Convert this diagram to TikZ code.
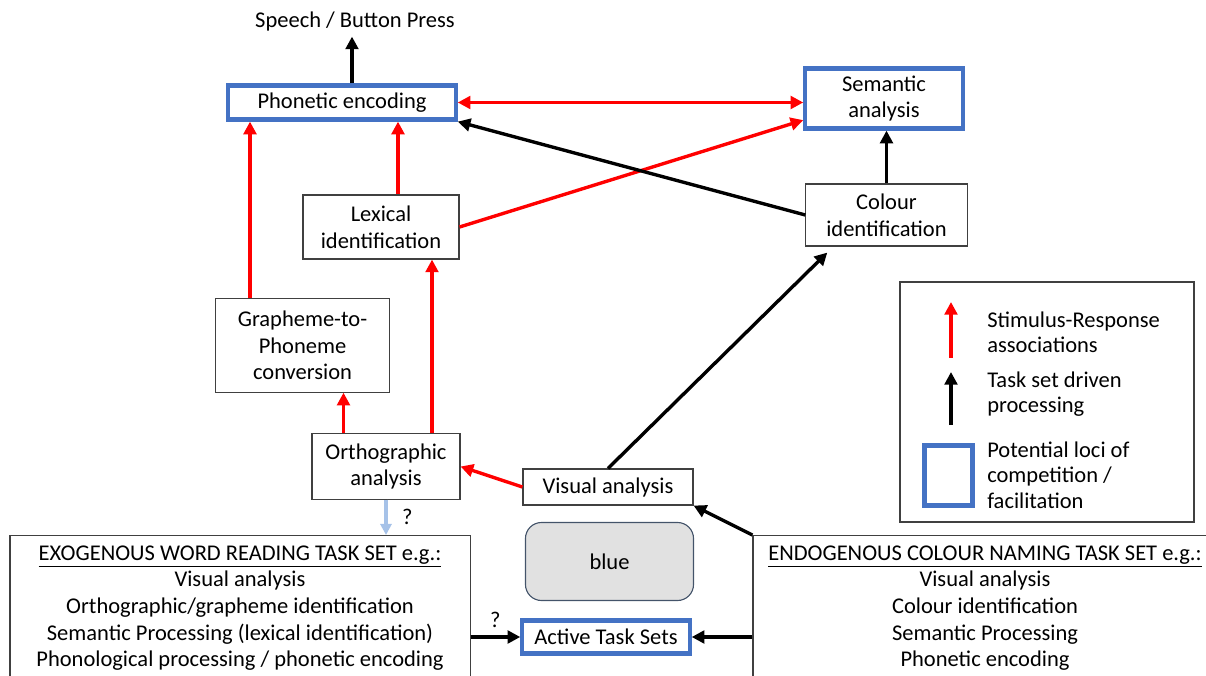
\documentclass[tikz,border=0pt]{standalone}
\usepackage{fontspec}
\setmainfont{Carlito}
\usetikzlibrary{arrows.meta,positioning}

\definecolor{locusblue}{RGB}{68,114,196}
\definecolor{srred}{RGB}{255,0,0}
\definecolor{cuegrey}{RGB}{225,225,225}
\definecolor{cueedge}{RGB}{68,84,106}
\definecolor{paleblue}{RGB}{166,194,232}

\tikzset{
  headtip/.tip={Triangle[length=9pt,width=9pt]},
  every node/.style={font=\fontsize{16}{19}\selectfont},
  stage/.style={draw=black!75, line width=0.8pt, align=center, inner sep=0pt},
  locus/.style={draw=locusblue, line width=3pt, align=center, inner sep=0pt},
  cue/.style={draw=cueedge, fill=cuegrey, line width=0.8pt, rounded corners=0.4cm},
  taskset/.style={draw=black!75, line width=0.8pt, align=center, anchor=north, inner ysep=7pt},
  keytext/.style={anchor=west, align=left, inner sep=0pt, font=\fontsize{16}{18}\selectfont},
  srarrow/.style={draw=srred, line width=2.4pt, -headtip},
  tsarrow/.style={draw=black, line width=2.4pt, -headtip},
  qarrow/.style={draw=paleblue, line width=2.4pt, -{Triangle[length=8pt,width=8pt]}}
}

\begin{document}
\begin{tikzpicture}[x=0.025cm, y=-0.025cm]
    \useasboundingbox (0,0) rectangle (1206,676);
    \clip (0,0) rectangle (1206,676);

    \node (speech) at (355,22) {Speech / Button Press};
    \node[locus, minimum width=5.68cm, minimum height=0.85cm] (phon) at (342,102.5) {Phonetic encoding};
    \node[locus, minimum width=3.93cm, minimum height=1.5cm] (sem) at (884,98.5) {Semantic\\analysis};
    \node[stage, minimum width=4.03cm, minimum height=1.55cm] (colour) at (886.5,215) {Colour\\identification};
    \node[stage, minimum width=3.9cm, minimum height=1.6cm] (lex) at (381,227) {Lexical\\identification};
    \node[stage, minimum width=4.33cm, minimum height=2.33cm] (g2p) at (302.5,345.5) {Grapheme-to-\\Phoneme\\conversion};
    \node[stage, minimum width=3.7cm, minimum height=1.63cm] (ortho) at (386,466.5) {Orthographic\\analysis};
    \node[stage, minimum width=4.25cm, minimum height=0.9cm] (visual) at (608,487) {Visual analysis};
    \node[cue, minimum width=4.2cm, minimum height=1.95cm] (word) at (609.5,561.5) {blue};
    \node[locus, minimum width=4.18cm, minimum height=0.83cm] (active) at (606,637) {Active Task Sets};

    \node[taskset, minimum width=11.5cm] (exo) at (240,535) {\underline{EXOGENOUS WORD READING TASK SET e.g.:}\\
        Visual analysis\\
        Orthographic/grapheme identification\\
        Semantic Processing (lexical identification)\\
        Phonological processing / phonetic encoding};
    \node[taskset, minimum width=11.6cm] (endo) at (985,535) {\underline{ENDOGENOUS COLOUR NAMING TASK SET e.g.:}\\
        Visual analysis\\
        Colour identification\\
        Semantic Processing\\
        Phonetic encoding};

    \draw[tsarrow] (phon.north) ++(10,0) coordinate (phonup) -- (phonup |- speech.south);
    \draw[srarrow, headtip-headtip] (phon.east) -- (sem.west |- phon.east);
    \draw[srarrow] (lex.east) -- (sem.195);
    \draw[tsarrow] (colour.west) -- (phon.south east);
    \draw[tsarrow] (colour.north) -- (colour.north |- sem.south);
    \draw[srarrow] (lex.north) ++(17,0) coordinate (lexup) -- (lexup |- phon.south);
    \draw[srarrow] (g2p.north) ++(-52.5,0) coordinate (g2pup) -- (g2pup |- phon.south);
    \draw[srarrow] (ortho.north) ++(-42.5,0) coordinate (ortholeft) -- (ortholeft |- g2p.south);
    \draw[srarrow] (ortho.north) ++(46,0) coordinate (orthoright) -- (orthoright |- lex.south);
    \draw[srarrow] (visual.west) -- (ortho.east);
    \path (colour.south west) ++(22,6) coordinate (colourin);
    \draw[tsarrow] (visual.north) -- (colourin);
    \draw[tsarrow] (endo.north west) -- (visual.south east);
    \draw[tsarrow] (endo.west |- active.east) -- (active.east);
    \draw[tsarrow] (exo.east |- active.west) -- node[above=2pt] {?} (active.west);
    \draw[qarrow] (ortho.south) -- node[right=7pt] {?} (ortho.south |- exo.north);

    \node[stage, minimum width=7.35cm, minimum height=6cm] (key) at (1047,402) {};
    \coordinate (srfoot) at (951,358);
    \coordinate (srhead) at (951,302);
    \coordinate (tsfoot) at (951,425);
    \coordinate (tshead) at (951,372);
    \draw[srarrow] (srfoot) -- (srhead);
    \draw[tsarrow] (tsfoot) -- (tshead);
    \node[locus, minimum width=1.2cm, minimum height=1.5cm] (lockey) at (948.5,475.5) {};
    \node[keytext] (srtext) at (987,332) {Stimulus-Response\\associations};
    \node[keytext] (tstext) at (987,394) {Task set driven\\processing};
    \node[keytext] (loctext) at (987,475) {Potential loci of\\competition /\\facilitation};
\end{tikzpicture}
\end{document}
